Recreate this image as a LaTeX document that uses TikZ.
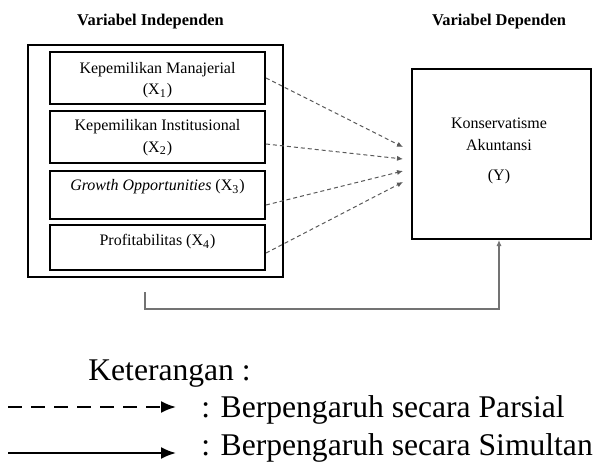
\documentclass[tikz,border=0pt]{standalone}
\usepackage{fontspec}
\setmainfont{Liberation Serif}
\usetikzlibrary{arrows.meta}

\tikzset{
  varbox/.style={draw, line width=1pt, minimum width=107.5pt, inner sep=0pt},
  boxtext/.style={font=\fontsize{8}{9.6}\selectfont, align=center, inner sep=0pt},
  headtext/.style={font=\fontsize{8.2}{9.6}\selectfont\bfseries, inner sep=0pt},
  legtext/.style={font=\fontsize{15.8}{19}\selectfont, inner sep=0pt, anchor=base west},
  partial/.style={draw=black!65, line width=0.5pt, dash pattern=on 2pt off 1.5pt,
    -{Latex[length=3pt,width=2.6pt]}},
  simultan/.style={draw=black!55, line width=0.6pt, -{Latex[length=3pt,width=2.6pt]}}
}

\begin{document}
\begin{tikzpicture}[x=0.5pt, y=-0.5pt]

  \useasboundingbox (0,0) rectangle (594,461);

  \node [headtext] (hind) at (150.5,22) {Variabel Independen};
  \node [headtext] (hdep) at (499,22) {Variabel Dependen};

  \node [draw, line width=1pt, minimum width=127.5pt, minimum height=116pt] (outer) at (155.5,161) {};
  \node [varbox, minimum height=26pt] (x1) at (157.5,78) {};
  \node [varbox, minimum height=26pt] (x2) at (157.5,137) {};
  \node [varbox, minimum height=24pt] (x3) at (157.5,195) {};
  \node [varbox, minimum height=22.5pt] (x4) at (157.5,247.5) {};
  \node [draw, line width=1pt, minimum width=89.5pt, minimum height=85pt] (y) at (501.5,154) {};

  \node [boxtext] (tx1) at (157.5,80) {Kepemilikan Manajerial\\[1.2pt](X\textsubscript{1})};
  \node [boxtext] (tx2) at (157.5,137.5) {Kepemilikan Institusional\\[1.2pt](X\textsubscript{2})};
  \node [boxtext] (tx3) at (157.5,187) {\textit{Growth Opportunities} (X\textsubscript{3})};
  \node [boxtext] (tx4) at (157.5,242) {Profitabilitas (X\textsubscript{4})};
  \node [boxtext] (ty1) at (499,123) {Konservatisme};
  \node [boxtext] (ty2) at (499,145) {Akuntansi};
  \node [boxtext] (ty3) at (499,177) {(Y)};

  % partial effects
  \coordinate (t1) at (403,147);
  \coordinate (t2) at (403,159);
  \coordinate (t3) at (403,171);
  \coordinate (t4) at (403,182);
  \draw [partial] (x1.east) -- (t1);
  \draw [partial] ([yshift=-3.5pt]x2.east) -- (t2);
  \draw [partial] ([yshift=-5pt]x3.east) -- (t3);
  \draw [partial] ([yshift=-2.75pt]x4.east) -- (t4);

  % simultaneous effect
  \coordinate (fb) at (145,292);
  \coordinate (fbc) at (145,309);
  \draw [simultan] (fb) -- (fbc) -| ([xshift=-1.25pt]y.south);

  \node [legtext] (ket) at (88,380) {Keterangan :};
  \coordinate (l1a) at (8,407);
  \coordinate (l1b) at (176,407);
  \coordinate (l2a) at (8,453);
  \coordinate (l2b) at (176,453);
  \draw [line width=1pt, dash pattern=on 7pt off 4.5pt, -{Latex[length=7.5pt,width=6pt]}] (l1a) -- (l1b);
  \draw [line width=1pt, -{Latex[length=7.5pt,width=6pt]}] (l2a) -- (l2b);
  \node [legtext] (lp) at (201,417) {: Berpengaruh secara Parsial};
  \node [legtext] (ls) at (201,455) {: Berpengaruh secara Simultan};
\end{tikzpicture}
\end{document}
